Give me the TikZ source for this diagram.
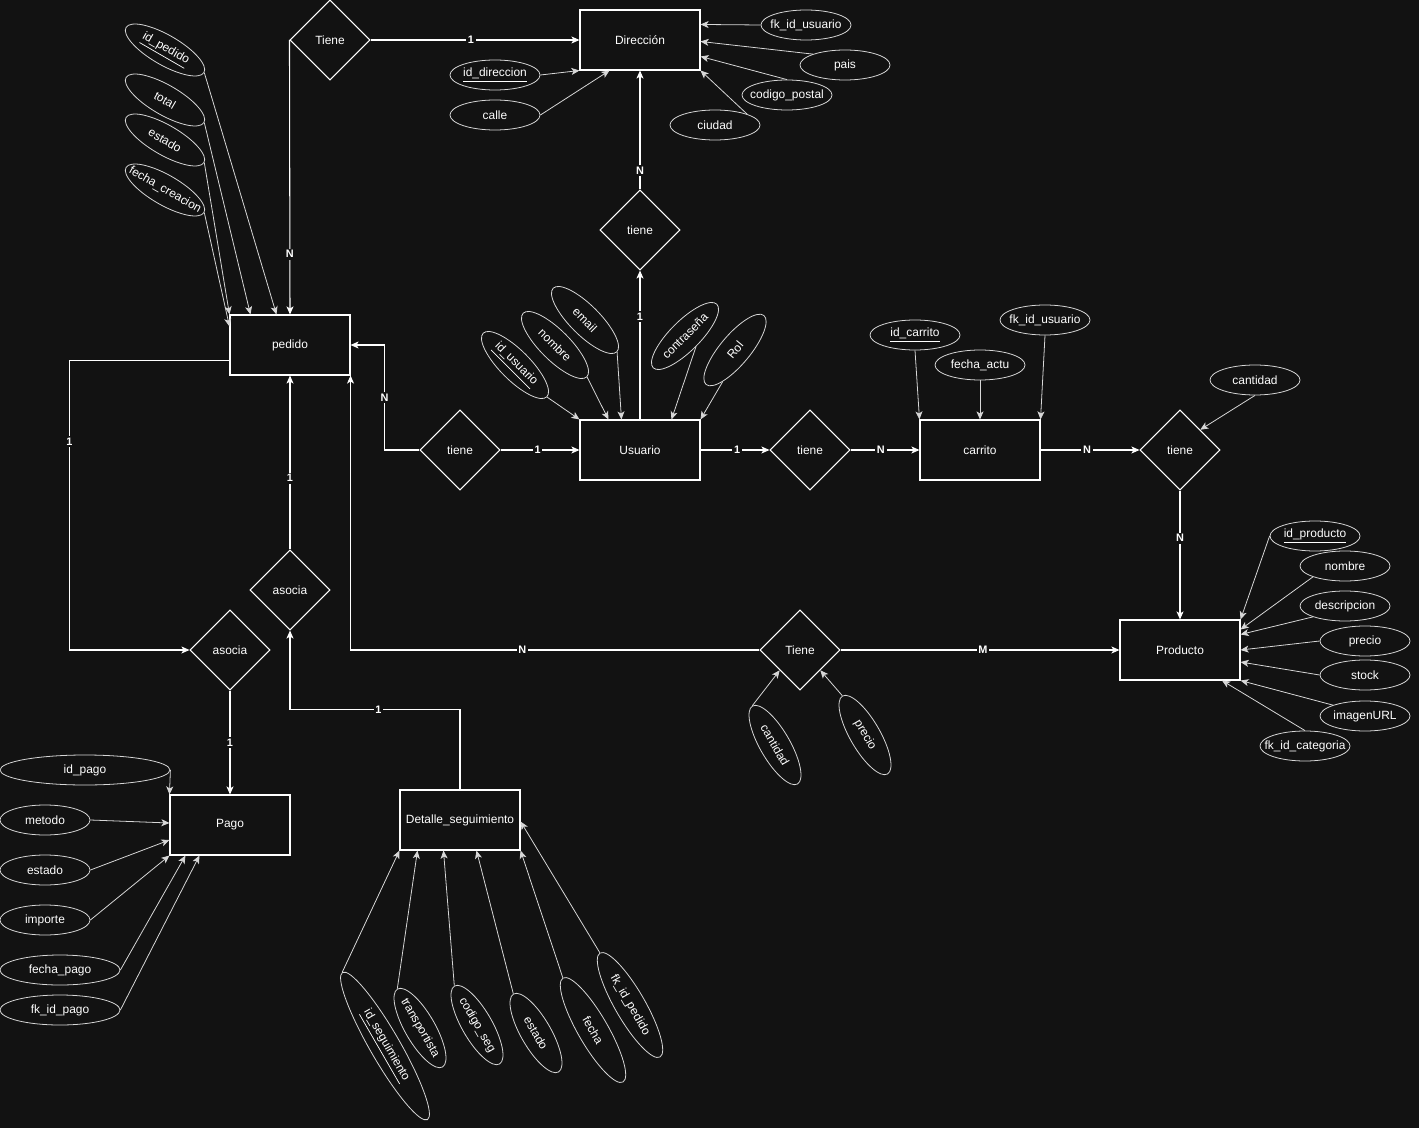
\documentclass[tikz,border=0pt]{standalone}
\usepackage{fontspec}
\setmainfont{Liberation Sans}
\usepackage{xcolor}
\usetikzlibrary{arrows.meta, shapes.geometric, calc}

\definecolor{bgdark}{RGB}{18,18,18}
\definecolor{attrline}{RGB}{215,215,215}
\newlength\px
\setlength\px{0.02cm}

\begin{document}
\begin{tikzpicture}[
  x=0.02cm, y=-0.02cm,
  ent/.style={draw=white, line width=0.6pt, minimum width=120\px, minimum height=60\px,
              inner sep=0pt, font=\fontsize{6.8}{8}\selectfont, text=white},
  rel/.style={draw=white, diamond, aspect=1, line width=0.6pt, minimum width=80\px,
              minimum height=80\px, inner sep=0pt, font=\fontsize{6.8}{8}\selectfont, text=white},
  attr/.style={draw=attrline, ellipse, line width=0.45pt, minimum width=90\px, minimum height=30\px,
               inner sep=0pt, font=\fontsize{6.8}{8}\selectfont, text=white,
               execute at begin node={\hbox to 0pt\bgroup\hss}, execute at end node={\hss\egroup}},
  arr/.style={-{Stealth[length=4.6pt,width=4pt,inset=1.2pt]}, draw=white, line width=0.6pt},
  aarr/.style={arr, draw=attrline, line width=0.45pt},
  card/.style={fill=bgdark, inner sep=1pt, font=\fontsize{6.2}{7}\bfseries\selectfont, text=white}
]

\path[use as bounding box] (0,0) rectangle (1419,1128);
\fill[bgdark] (0,0) rectangle (1419,1128);

%% Entities
\node[ent] (dir)  at (640,40)   {Dirección};
\node[ent] (ped)  at (290,345)  {pedido};
\node[ent] (usu)  at (640,450)  {Usuario};
\node[ent] (car)  at (980,450)  {carrito};
\node[ent] (prod) at (1180,650) {Producto};
\node[ent] (pago) at (230,825)  {Pago};
\node[ent] (det)  at (460,820)  {Detalle\_seguimiento};

%% Relations
\node[rel] (tieneDir)   at (330,40)   {Tiene};
\node[rel] (tieneUD)    at (640,230)  {tiene};
\node[rel] (tienePU)    at (460,450)  {tiene};
\node[rel] (tieneUC)    at (810,450)  {tiene};
\node[rel] (tieneCP)    at (1180,450) {tiene};
\node[rel] (tienePP)    at (800,650)  {Tiene};
\node[rel] (asociaDet)  at (290,590)  {asocia};
\node[rel] (asociaPago) at (230,650)  {asocia};

%% Relation connectors
\draw[arr] (tieneDir.west) -- node[card, pos=0.78] {N} (ped.north);
\draw[arr] (tieneDir.east) -- node[card, pos=0.48] {1} (dir.west);
\draw[arr] (usu.north) -- node[card, pos=0.69] {1} (tieneUD.south);
\draw[arr] (tieneUD.north) -- node[card, pos=0.16] {N} (dir.south);
\draw[arr] (tienePU.west) -- ++(-35,0) |- node[card, pos=0.25] {N} (ped.east);
\draw[arr] (tienePU.east) -- node[card, pos=0.47] {1} (usu.west);
\draw[arr] (usu.east) -- node[card, pos=0.53] {1} (tieneUC.west);
\draw[arr] (tieneUC.east) -- node[card, pos=0.44] {N} (car.west);
\draw[arr] (car.east) -- node[card, pos=0.47] {N} (tieneCP.west);
\draw[arr] (tieneCP.south) -- node[card, pos=0.37] {N} (prod.north);
\draw[arr] (tienePP.west) -| node[card, pos=0.29] {N} (ped.south east);
\draw[arr] (tienePP.east) -- node[card, pos=0.51] {M} (prod.west);
\draw[arr] ($(ped.south west)+(0,-15)$) -- ++(-160,0) |- node[card, pos=0.14] {1} (asociaPago.west);
\draw[arr] (asociaPago.south) -- node[card, pos=0.5] {1} (pago.north);
\draw[arr] (asociaDet.north) -- node[card, pos=0.41] {1} (ped.south);
\draw[arr] (det.north) -- ++(0,-80) -| node[card, pos=0.24] {1} (asociaDet.south);

%% pedido attributes
\node[attr, rotate=-30] (aIdPed)  at (165,50)  {\underline{id\_pedido}};
\node[attr, rotate=-30] (aTotal)  at (165,100) {total};
\node[attr, rotate=-30] (aEstPed) at (165,140) {estado};
\node[attr, rotate=-30] (aFechaC) at (165,190) {fecha\_creacion};
\draw[aarr] (aIdPed.east)  -- ($(ped.north west)+(47,0)$);
\draw[aarr] (aTotal.east)  -- ($(ped.north west)+(21,0)$);
\draw[aarr] (aEstPed.east) -- (ped.north west);
\draw[aarr] (aFechaC.east) -- ($(ped.north west)+(0,12)$);

%% Direccion attributes
\node[attr] (aFkUsuD)    at (806,25)  {fk\_id\_usuario};
\node[attr] (aPais)      at (845,65)  {pais};
\node[attr] (aCodPostal) at (787,95)  {codigo\_postal};
\node[attr] (aCiudad)    at (715,125) {ciudad};
\node[attr] (aIdDir)     at (495,75)  {\underline{id\_direccion}};
\node[attr] (aCalle)     at (495,115) {calle};
\draw[aarr] (aFkUsuD.west)         -- ($(dir.north east)+(0,15)$);
\draw[aarr] (aPais.north west)     -- ($(dir.north east)+(0,32)$);
\draw[aarr] (aCodPostal.north)     -- ($(dir.north east)+(0,47)$);
\draw[aarr] (aCiudad.north east)   -- (dir.south east);
\draw[aarr] (aIdDir.east)          -- (dir.south west);
\draw[aarr] (aCalle.east)          -- ($(dir.south west)+(30,0)$);

%% Usuario attributes
\node[attr, rotate=-45] (aIdUsu)  at (515,365) {\underline{id\_usuario}};
\node[attr, rotate=-45] (aNomUsu) at (555,345) {nombre};
\node[attr, rotate=-45] (aEmail)  at (585,320) {email};
\node[attr, rotate=45]  (aPass)   at (685,336) {contraseña};
\node[attr, rotate=50]  (aRol)    at (735,350) {Rol};
\draw[aarr] (aIdUsu.east)      -- (usu.north west);
\draw[aarr] (aNomUsu.east)     -- ($(usu.north west)+(29,0)$);
\draw[aarr] (aEmail.east)      -- ($(usu.north west)+(42,0)$);
\draw[aarr] (aPass.south)      -- ($(usu.north west)+(92,0)$);
\draw[aarr] (aRol.south west)  -- (usu.north east);

%% carrito attributes
\node[attr] (aIdCar)   at (915,335)  {\underline{id\_carrito}};
\node[attr] (aFechaA)  at (980,365)  {fecha\_actu};
\node[attr] (aFkUsuC)  at (1045,320) {fk\_id\_usuario};
\node[attr] (aCantCar) at (1255,380) {cantidad};
\draw[aarr] (aIdCar.south)   -- (car.north west);
\draw[aarr] (aFechaA.south)  -- (car.north);
\draw[aarr] (aFkUsuC.south)  -- (car.north east);
\draw[aarr] (aCantCar.south) -- (tieneCP.north east);

%% Producto attributes
\node[attr] (aIdProd)  at (1315,536) {\underline{id\_producto}};
\node[attr] (aNomProd) at (1345,566) {nombre};
\node[attr] (aDesc)    at (1345,606) {descripcion};
\node[attr] (aPrecio)  at (1365,641) {precio};
\node[attr] (aStock)   at (1365,675) {stock};
\node[attr] (aImagen)  at (1365,716) {imagenURL};
\node[attr] (aFkCat)   at (1305,746) {fk\_id\_categoria};
\draw[aarr] (aIdProd.west)        -- (prod.north east);
\draw[aarr] (aNomProd.south west) -- ($(prod.north east)+(0,10)$);
\draw[aarr] (aDesc.south west)    -- ($(prod.north east)+(0,15)$);
\draw[aarr] (aPrecio.west)        -- (prod.east);
\draw[aarr] (aStock.west)         -- ($(prod.east)+(0,12)$);
\draw[aarr] (aImagen.north west)  -- (prod.south east);
\draw[aarr] (aFkCat.north)        -- ($(prod.south)+(42,0)$);

%% Tiene (pedido-Producto) attributes
\node[attr, rotate=-60] (aCantT) at (775,745) {cantidad};
\node[attr, rotate=-60] (aPrecT) at (865,735) {precio};
\draw[aarr] (aCantT.west) -- (tienePP.south west);
\draw[aarr] (aPrecT.west) -- (tienePP.south east);

%% Pago attributes
\node[attr, minimum width=170\px] (aIdPago)  at (85,770)  {id\_pago};
\node[attr]                       (aMetodo)  at (45,820)  {metodo};
\node[attr]                       (aEstPago) at (45,870)  {estado};
\node[attr]                       (aImporte) at (45,920)  {importe};
\node[attr, minimum width=120\px] (aFechaP)  at (60,970)  {fecha\_pago};
\node[attr, minimum width=120\px] (aFkPago)  at (60,1010) {fk\_id\_pago};
\draw[aarr] (aIdPago.east)  -- (pago.north west);
\draw[aarr] (aMetodo.east)  -- ($(pago.west)+(0,-2)$);
\draw[aarr] (aEstPago.east) -- ($(pago.west)+(0,15)$);
\draw[aarr] (aImporte.east) -- (pago.south west);
\draw[aarr] (aFechaP.east)  -- ($(pago.south west)+(16,0)$);
\draw[aarr] (aFkPago.east)  -- ($(pago.south west)+(30,0)$);

%% Detalle_seguimiento attributes
\node[attr, rotate=-60, minimum width=170\px] (aIdSeg)  at (385,1046) {\underline{id\_seguimiento}};
\node[attr, rotate=-60]                       (aTransp) at (420,1028) {transportista};
\node[attr, rotate=-60]                       (aCodSeg) at (477,1025) {codigo\_seg};
\node[attr, rotate=-60]                       (aEstDet) at (536,1033) {estado};
\node[attr, rotate=-60, minimum width=120\px] (aFecha)  at (593,1030) {fecha};
\node[attr, rotate=-60, minimum width=120\px] (aFkPed)  at (630,1005) {fk\_id\_pedido};
\draw[aarr] (aIdSeg.west)  -- (det.south west);
\draw[aarr] (aTransp.west) -- ($(det.south west)+(18,0)$);
\draw[aarr] (aCodSeg.west) -- ($(det.south west)+(44,0)$);
\draw[aarr] (aEstDet.west) -- ($(det.south west)+(77,0)$);
\draw[aarr] (aFecha.west)  -- (det.south east);
\draw[aarr] (aFkPed.west)  -- ($(det.north east)+(0,32)$);

\end{tikzpicture}
\end{document}
